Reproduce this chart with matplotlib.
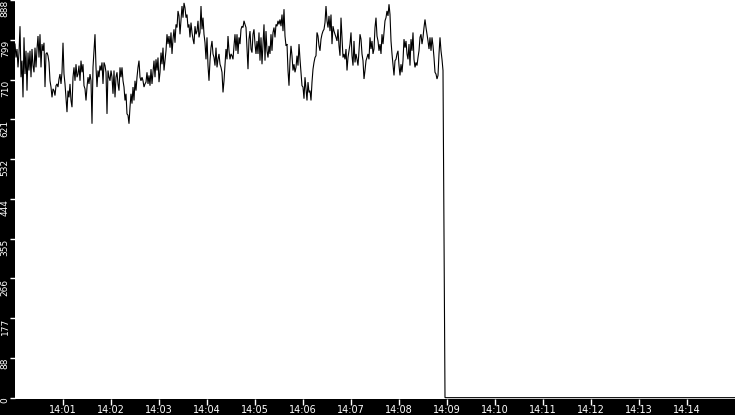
import numpy as np
import matplotlib
matplotlib.use("Agg")
import matplotlib.pyplot as plt

# sampled values, one every 1.25 s starting 14:00:00
vals_a = [790, 760, 779, 738, 771, 830, 716, 753, 671, 805, 723, 775, 686, 771, 731, 775,
          716, 779, 742, 727, 782, 738, 779, 808, 760, 812, 738, 790, 775, 793, 694, 768,
          771, 764, 749, 708, 694, 671, 690, 686, 675, 697, 701, 694, 712, 723, 701, 727,
          793, 723, 701, 671, 638, 686, 671, 701, 664, 649, 716, 738, 708, 745, 716, 723,
          742, 708, 753, 727, 745, 697, 690, 664, 694, 716, 701, 723, 708, 612, 738, 775,
          812, 738, 694, 731, 716, 742, 731, 749, 701, 749, 742, 727, 634, 731, 716, 708,
          731, 716, 679, 731, 671, 716, 727, 701, 686, 738, 716, 738, 708]
vals_b = [694, 664, 679, 634, 631, 612, 649, 679, 657, 694, 664, 708, 686, 716, 738, 753,
          716, 708, 716, 708, 694, 701, 705, 727, 701, 720, 697, 734, 701, 727, 753, 716,
          756, 731, 760, 705, 727, 771, 745, 782, 731, 753, 775, 812, 790, 808, 782, 816,
          768, 801, 823, 793, 834, 827, 864, 853, 812, 842, 875, 849, 882, 871, 849, 856,
          827, 834, 805, 838, 816, 801, 790, 830, 812, 819, 842, 805, 816, 875, 823, 849,
          812, 793, 756, 805, 742, 708, 753, 782, 797, 768, 760, 742, 782, 738, 756, 768,
          745, 738, 727, 682, 708, 742, 779, 756, 808, 775, 756, 768]
vals_c = [764, 756, 786, 812, 775, 812, 768, 805, 790, 823, 830, 827, 842, 834, 827, 782,
          734, 801, 819, 779, 771, 812, 823, 790, 768, 797, 768, 816, 753, 805, 745, 790,
          834, 753, 819, 775, 760, 786, 768, 812, 775, 816, 827, 805, 834, 830, 842, 834,
          845, 830, 856, 819, 868, 808, 786, 790, 731, 697, 753, 786, 764, 731, 745, 727,
          738, 764, 742, 790, 756, 727, 697, 694, 668, 716, 690, 664, 705, 682, 686, 664,
          705, 734, 749, 760, 764, 816, 808, 786, 775, 801, 812, 819, 823, 838, 875, 842,
          827, 853, 819, 856, 790, 830, 819, 812, 805, 797, 823, 786]
vals_d = [764, 849, 805, 760, 768, 756, 779, 731, 760, 775, 790, 816, 764, 742, 797, 749,
          768, 756, 742, 775, 812, 801, 768, 753, 712, 731, 753, 760, 768, 756, 805, 779,
          797, 768, 779, 827, 849, 808, 797, 775, 790, 768, 812, 790, 816, 842, 849, 864,
          853, 879, 856, 797, 768, 745, 720, 753, 756, 768, 775, 742, 720, 745, 727, 753,
          801, 782, 797, 768, 756, 790, 742, 801, 775, 816, 756, 738, 749, 742, 760, 775,
          805, 812, 790, 805, 827, 845, 827, 812, 797, 779, 805, 775, 805, 786, 760, 727,
          723, 712, 720, 768, 805, 775, 756, 731]
drop_vals = [362, 0]
end_val = 0

sample_sec = 1.25
end_sec = 900

tick_min_labels = ["14:01", "14:02", "14:03", "14:04", "14:05", "14:06", "14:07",
                   "14:08", "14:09", "14:10", "14:11", "14:12", "14:13", "14:14"]
ytick_labels = ["0", "88", "177", "266", "355", "444", "532", "621", "710", "799", "888"]
ymax = 888

vals = np.array(vals_a + vals_b + vals_c + vals_d + drop_vals + [end_val], dtype=float)
t = np.arange(len(vals) - 1) * sample_sec
t = np.append(t, end_sec)

fig = plt.figure(figsize=(7.35, 4.15), dpi=100, facecolor="black")
ax = fig.add_axes([15 / 735, 16 / 415, 720 / 735, 399 / 415])
ax.set_facecolor("white")
ax.plot(t, vals, color="black", lw=0.8, solid_joinstyle="miter")

ax.set_xlim(0, end_sec)
ax.set_ylim(-3.0, ymax + 0.5)

ax.set_xticks([60 * (i + 1) for i in range(len(tick_min_labels))])
ax.set_xticklabels(tick_min_labels)
yt = [ymax * i / 10 for i in range(len(ytick_labels))]
ax.set_yticks(yt)
ax.set_yticklabels(ytick_labels, rotation=90, va="top")

ax.tick_params(colors="white", width=1)
ax.tick_params(axis="x", labelsize=7, length=4, pad=0.5)
ax.tick_params(axis="y", labelsize=6.5, length=3.5, pad=0.3)
for s in ax.spines.values():
    s.set_visible(False)

fig.savefig("out.png", dpi=100, facecolor="black")
